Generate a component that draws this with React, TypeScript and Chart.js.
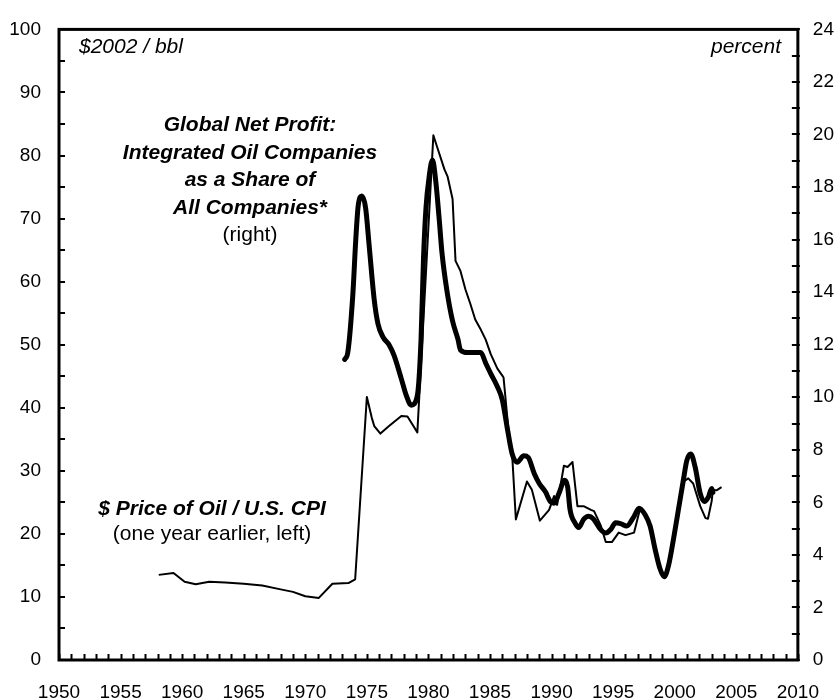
import React, { useEffect, useRef } from "react";
import { Chart, registerables } from "chart.js";

Chart.register(...registerables);

// Thin line: $ price of oil / U.S. CPI (one year earlier), left axis, $2002/bbl
const oilYears = [
  1958.1, 1959.3, 1960.2, 1961.1, 1962.2, 1963.5, 1965.0, 1966.5, 1968.0, 1969.0,
  1970.0, 1971.1, 1972.2, 1973.5, 1974.05, 1975.0, 1975.4, 1975.6, 1976.1, 1976.8,
  1977.8, 1978.3, 1979.1, 1980.4, 1980.7, 1981.3, 1981.55, 1981.96, 1982.2, 1982.6,
  1983.0, 1983.4, 1983.8, 1984.25, 1984.65, 1985.06, 1985.6, 1986.0, 1986.1, 1986.5,
  1986.8, 1987.1, 1988.0, 1988.4, 1989.05, 1989.8, 1990.2, 1990.45, 1991.0, 1991.3,
  1991.7, 1992.1, 1992.6, 1993.2, 1993.45, 1994.0, 1994.4, 1994.9, 1995.45, 1996.0,
  1996.7, 1997.1, 1997.3, 1997.6, 1998.0, 1998.4, 1998.8, 1999.15, 1999.5, 1999.9,
  2000.3, 2000.7, 2001.1, 2001.5, 2002.07, 2002.5, 2002.7, 2003.0, 2003.1, 2003.4,
  2003.8,
];
const oilValues = [
  13.5, 13.8, 12.4, 12.0, 12.4, 12.3, 12.1, 11.8, 11.2, 10.8,
  10.1, 9.85, 12.1, 12.2, 12.8, 41.7, 38.4, 37.1, 35.9, 37.1,
  38.7, 38.6, 36.1, 83.2, 81.4, 77.8, 76.7, 73.1, 63.3, 61.7,
  58.8, 56.5, 54.0, 52.4, 50.8, 48.5, 46.2, 45.1, 44.8, 36.5,
  32.5, 22.3, 28.3, 27.0, 22.1, 23.8, 26.0, 24.6, 30.8, 30.6,
  31.4, 24.4, 24.4, 23.8, 23.6, 21.3, 18.7, 18.7, 20.2, 19.8,
  20.2, 23.3, 24.1, 23.0, 21.3, 17.6, 14.5, 13.2, 15.0, 19.2,
  23.8, 28.3, 28.8, 28.0, 24.4, 22.5, 22.4, 25.2, 27.0, 26.9,
  27.4,
];

// Thick line: global net profit of integrated oil companies as share of all companies, right axis, percent
const profitYears = [
  1973.2, 1973.45, 1973.86, 1974.1, 1974.3, 1974.6, 1974.9, 1975.2, 1975.6, 1975.9,
  1976.3, 1976.8, 1977.2, 1977.8, 1978.2, 1978.6, 1979.1, 1979.4, 1979.6, 1979.8,
  1980.06, 1980.33, 1980.6, 1980.87, 1981.1, 1981.5, 1981.96, 1982.4, 1982.6, 1983.2,
  1983.7, 1984.25, 1984.65, 1985.06, 1985.6, 1986.0, 1986.4, 1986.8, 1987.2, 1987.75,
  1988.1, 1988.6, 1989.0, 1989.5, 1989.9, 1990.2, 1990.6, 1991.05, 1991.3, 1991.5,
  1991.9, 1992.2, 1992.6, 1993.0, 1993.4, 1993.97, 1994.4, 1994.8, 1995.2, 1995.6,
  1996.1, 1996.7, 1997.1, 1997.6, 1998.0, 1998.4, 1998.8, 1999.15, 1999.5, 1999.9,
  2000.3, 2000.7, 2000.98, 2001.3, 2001.66, 2002.07, 2002.4, 2002.75, 2003.0, 2003.1,
];
const profitValues = [
  11.44, 11.7, 13.9, 16.0, 17.3, 17.66, 17.2, 15.7, 13.7, 12.8,
  12.3, 12.0, 11.6, 10.7, 10.07, 9.7, 10.07, 12.2, 15.3, 17.2,
  18.4, 19.03, 18.2, 16.8, 15.5, 14.06, 12.9, 12.2, 11.8, 11.7,
  11.7, 11.7, 11.3, 10.9, 10.4, 9.9, 8.83, 7.84, 7.53, 7.77,
  7.71, 7.09, 6.72, 6.4, 6.03, 5.97, 6.34, 6.84, 6.6, 5.72,
  5.22, 5.04, 5.35, 5.47, 5.37, 4.97, 4.83, 4.97, 5.22, 5.19,
  5.1, 5.47, 5.78, 5.53, 5.1, 4.23, 3.48, 3.17, 3.6, 4.6,
  5.72, 6.84, 7.59, 7.84, 7.34, 6.34, 6.03, 6.22, 6.53, 6.38,
];

const xMin = 1950;
const xMax = 2010;
const xMajorStep = 5;
const leftMax = 100;
const leftMajorStep = 10;
const leftMinorStep = 5;
const rightMax = 24;
const rightMajorStep = 2;
const rightMinorStep = 1;

const FONT = "'Liberation Sans', Arial, Helvetica, sans-serif";

const frameAndTicks = {
  id: "frameAndTicks",
  afterDatasetsDraw(chart: any) {
    const { ctx, chartArea: a, scales } = chart;
    ctx.save();
    ctx.strokeStyle = "#000";
    ctx.lineWidth = 2;
    const tl = 6;
    ctx.beginPath();
    for (let yr = xMin; yr <= xMax; yr += 1) {
      const px = Math.round(scales.x.getPixelForValue(yr)) + 0.5;
      ctx.moveTo(px, a.bottom);
      ctx.lineTo(px, a.bottom - tl);
    }
    for (let v = 0; v <= leftMax; v += leftMinorStep) {
      const py = Math.round(scales.y.getPixelForValue(v));
      ctx.moveTo(a.left, py);
      ctx.lineTo(a.left + tl, py);
    }
    for (let v = 0; v <= rightMax; v += rightMinorStep) {
      const py = Math.round(scales.y1.getPixelForValue(v));
      ctx.moveTo(a.right + 2, py);
      ctx.lineTo(a.right - tl, py);
    }
    ctx.stroke();
    ctx.lineWidth = 3;
    ctx.strokeRect(a.left, a.top, a.right - a.left, a.bottom - a.top);
    ctx.restore();
  },
};

export default function App() {
  const canvasRef = useRef<HTMLCanvasElement | null>(null);

  useEffect(() => {
    const canvas = canvasRef.current;
    if (!canvas) return;
    const oilData = oilYears.map((x, i) => ({ x, y: oilValues[i] }));
    const profitData = profitYears.map((x, i) => ({ x, y: profitValues[i] }));
    const chart = new Chart(canvas, {
      type: "line",
      data: {
        datasets: [
          {
            label: "$ Price of Oil / U.S. CPI",
            data: oilData,
            yAxisID: "y",
            borderColor: "#000",
            borderWidth: 2,
            pointRadius: 0,
            tension: 0,
            borderJoinStyle: "round",
            fill: false,
          },
          {
            label: "Global Net Profit",
            data: profitData,
            yAxisID: "y1",
            borderColor: "#000",
            borderWidth: 5,
            pointRadius: 0,
            cubicInterpolationMode: "monotone",
            borderCapStyle: "round",
            borderJoinStyle: "round",
            fill: false,
          },
        ],
      },
      options: {
        animation: false,
        responsive: false,
        devicePixelRatio: 1,
        layout: { padding: { top: 18, left: 0, right: 0, bottom: 0 } },
        plugins: { legend: { display: false }, tooltip: { enabled: false } },
        scales: {
          x: {
            type: "linear",
            min: xMin,
            max: xMax,
            grid: { display: false, drawTicks: false },
            border: { display: false },
            ticks: {
              stepSize: xMajorStep,
              padding: 21,
              color: "#000",
              font: { family: FONT, size: 19 },
              maxRotation: 0,
              autoSkip: false,
              callback: (v: any) => String(v),
            },
            afterFit: (s: any) => {
              s.height = 40;
            },
          },
          y: {
            type: "linear",
            position: "left",
            min: 0,
            max: leftMax,
            grid: { display: false, drawTicks: false },
            border: { display: false },
            ticks: {
              stepSize: leftMajorStep,
              padding: 18,
              color: "#000",
              font: { family: FONT, size: 19 },
              callback: (v: any) => String(v),
            },
            afterFit: (s: any) => {
              s.width = 59;
            },
          },
          y1: {
            type: "linear",
            position: "right",
            min: 0,
            max: rightMax,
            grid: { display: false, drawTicks: false },
            border: { display: false },
            ticks: {
              stepSize: rightMajorStep,
              padding: 15,
              color: "#000",
              font: { family: FONT, size: 19 },
              callback: (v: any) => String(v),
            },
            afterFit: (s: any) => {
              s.width = 42;
            },
          },
        },
      },
      plugins: [frameAndTicks],
    } as any);
    return () => chart.destroy();
  }, []);

  const base: React.CSSProperties = {
    position: "absolute",
    fontFamily: FONT,
    fontSize: 21,
    color: "#000",
    whiteSpace: "nowrap",
  };

  return (
    <div style={{ position: "absolute", left: 0, top: 0, width: 840, height: 700, background: "#fff" }}>
      <canvas ref={canvasRef} width={840} height={700} style={{ display: "block" }} />
      <div style={{ ...base, left: 79, top: 33, lineHeight: "25px", fontStyle: "italic" }}>$2002 / bbl</div>
      <div style={{ ...base, right: 59, top: 33, lineHeight: "25px", fontStyle: "italic", textAlign: "right" }}>percent</div>
      <div style={{ ...base, left: 100, width: 300, top: 110, lineHeight: "27.5px", textAlign: "center" }}>
        <div style={{ fontWeight: "bold", fontStyle: "italic" }}>Global Net Profit:</div>
        <div style={{ fontWeight: "bold", fontStyle: "italic" }}>Integrated Oil Companies</div>
        <div style={{ fontWeight: "bold", fontStyle: "italic" }}>as a Share of</div>
        <div style={{ fontWeight: "bold", fontStyle: "italic" }}>All Companies*</div>
        <div>(right)</div>
      </div>
      <div style={{ ...base, left: 62, width: 300, top: 495, lineHeight: "25px", textAlign: "center" }}>
        <div style={{ fontWeight: "bold", fontStyle: "italic" }}>$ Price of Oil / U.S. CPI</div>
        <div>(one year earlier, left)</div>
      </div>
    </div>
  );
}
